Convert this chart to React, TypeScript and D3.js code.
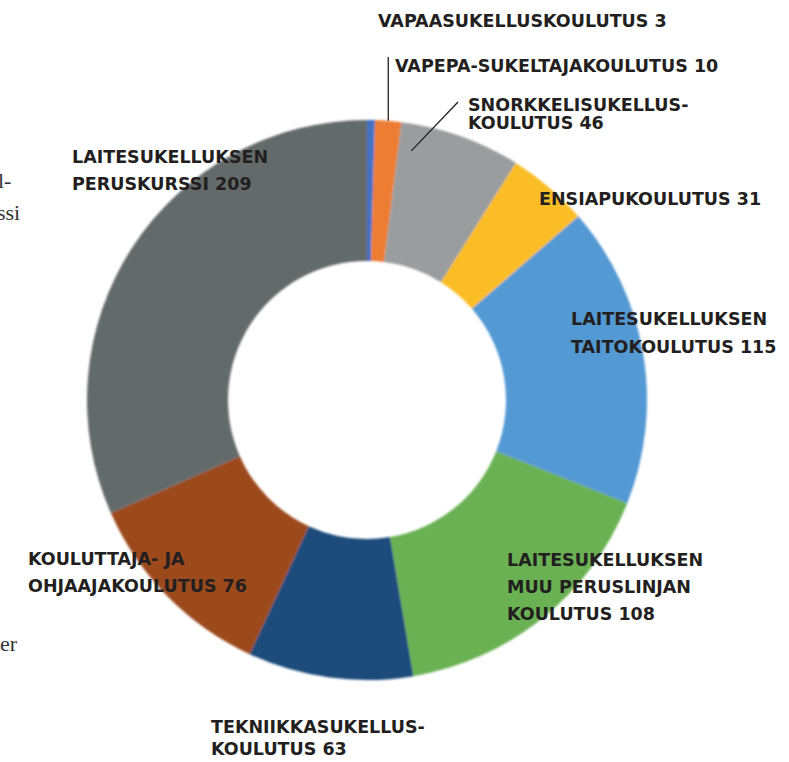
import React from 'react';
import * as d3 from 'd3';

const names = [
  'VAPAASUKELLUSKOULUTUS',
  'VAPEPA-SUKELTAJAKOULUTUS',
  'SNORKKELISUKELLUSKOULUTUS',
  'ENSIAPUKOULUTUS',
  'LAITESUKELLUKSEN TAITOKOULUTUS',
  'LAITESUKELLUKSEN MUU PERUSLINJAN KOULUTUS',
  'TEKNIIKKASUKELLUSKOULUTUS',
  'KOULUTTAJA- JA OHJAAJAKOULUTUS',
  'LAITESUKELLUKSEN PERUSKURSSI',
];
const values = [3, 10, 46, 31, 115, 108, 63, 76, 209];
const colors = ['#4472c4', '#ed7d31', '#9a9d9e', '#fbbd25', '#5299d3', '#6bb152', '#1b4b7c', '#9c4a1f', '#646a6b'];

// label text lines, as printed next to the chart
const labelLines = [
  ['VAPAASUKELLUSKOULUTUS 3'],
  ['VAPEPA-SUKELTAJAKOULUTUS 10'],
  ['SNORKKELISUKELLUS-', 'KOULUTUS 46'],
  ['ENSIAPUKOULUTUS 31'],
  ['LAITESUKELLUKSEN', 'TAITOKOULUTUS 115'],
  ['LAITESUKELLUKSEN', 'MUU PERUSLINJAN', 'KOULUTUS 108'],
  ['TEKNIIKKASUKELLUS-', 'KOULUTUS 63'],
  ['KOULUTTAJA- JA', 'OHJAAJAKOULUTUS 76'],
  ['LAITESUKELLUKSEN', 'PERUSKURSSI 209'],
];

// where each label sits (x, first baseline, line gap)
const labelPos = [
  { x: 378, y: 27, gap: 0 },
  { x: 395, y: 72, gap: 0 },
  { x: 468, y: 111, gap: 18 },
  { x: 539, y: 205, gap: 0 },
  { x: 571, y: 325, gap: 28 },
  { x: 507, y: 566, gap: 27 },
  { x: 211, y: 733, gap: 22 },
  { x: 28, y: 565, gap: 27 },
  { x: 72, y: 163, gap: 27 },
];

const W = 789;
const H = 762;
const cx = 367;
const cy = 400;
const outerR = 280;
const innerR = 139;

export default function App() {
  const pie = d3.pie<number>().value((d) => d).sort(null);
  const arcs = pie(values);
  const arc = d3.arc<d3.PieArcDatum<number>>().innerRadius(innerR).outerRadius(outerR);

  // polar helper, angle clockwise from 12 o'clock
  const polar = (a: number, r: number): [number, number] => [Math.sin(a) * r, -Math.cos(a) * r];

  const vapepa = arcs[1];
  const vapepaMid = (vapepa.startAngle + vapepa.endAngle) / 2;
  const [vx, vy] = polar(vapepaMid, outerR);

  const snork = arcs[2];
  const snorkA = snork.startAngle + (snork.endAngle - snork.startAngle) * 0.12;
  const [sx, sy] = polar(snorkA, 253);

  const font = '"DejaVu Sans", sans-serif';

  return (
    <svg width={W} height={H} style={{ position: 'absolute', left: 0, top: 0, background: '#fff' }}>
      <defs>
        <filter id="soft" x="-5%" y="-5%" width="110%" height="110%">
          <feGaussianBlur stdDeviation="0.8" />
        </filter>
      </defs>
      {/* cut-off body text at the page edge */}
      <g fontFamily='"Liberation Serif", serif' fontSize={22} fill="#333">
        <text x={-2} y={188}>l-</text>
        <text x={-3} y={220}>ssi</text>
        <text x={-11} y={651}>ker</text>
      </g>
      <g transform={`translate(${cx},${cy})`} filter="url(#soft)">
        {arcs.map((a, i) => (
          <path key={names[i]} d={arc(a) || ''} fill={colors[i]} />
        ))}
      </g>
      <g transform={`translate(${cx},${cy})`} stroke="#231f20" strokeWidth={1.3}>
        <line x1={vx} y1={vy} x2={vx} y2={57 - cy} />
        <line x1={sx} y1={sy} x2={458 - cx} y2={102 - cy} />
      </g>
      <g fontFamily={font} fontWeight="bold" fontSize={17.5} fill="#231f20">
        {labelLines.map((lines, i) => (
          <text key={names[i]} x={labelPos[i].x} y={labelPos[i].y}>
            {lines.map((t, j) => (
              <tspan key={j} x={labelPos[i].x} y={labelPos[i].y + j * labelPos[i].gap}>
                {t}
              </tspan>
            ))}
          </text>
        ))}
      </g>
    </svg>
  );
}
